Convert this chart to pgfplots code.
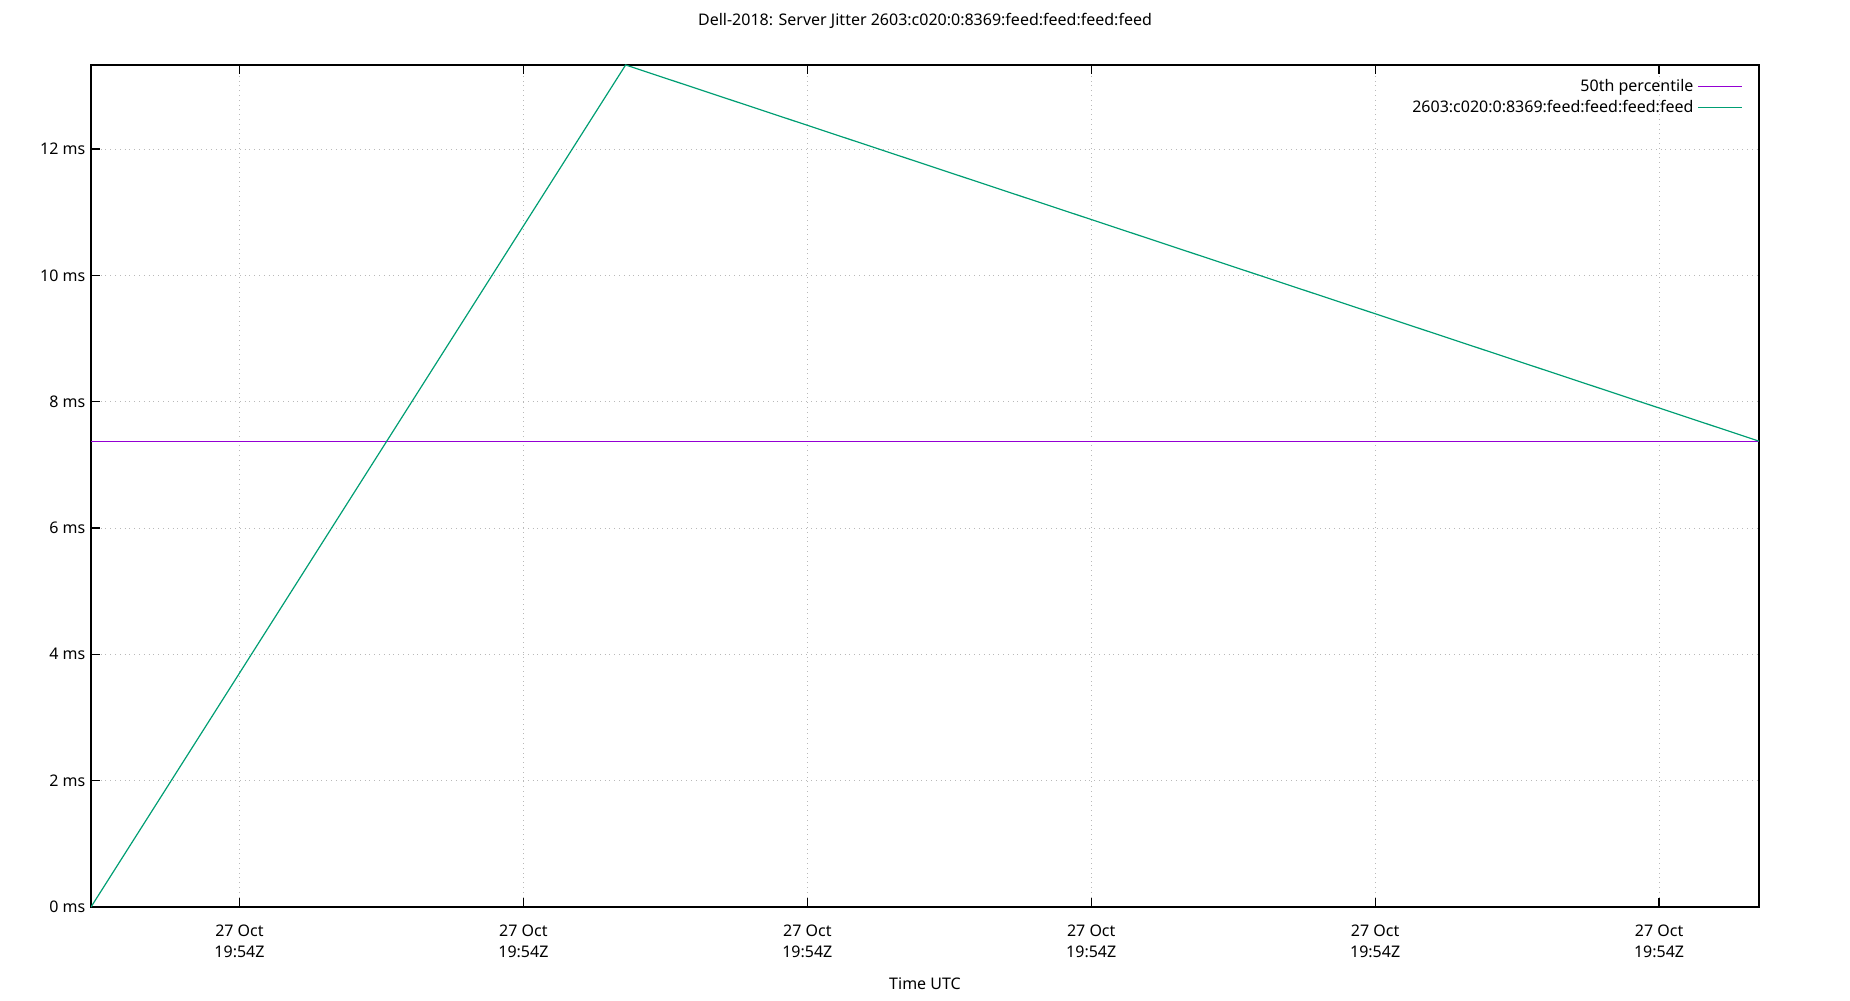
\documentclass[border=0pt]{standalone}
\usepackage{fontspec}
\setmainfont{Noto Sans}
\usepackage{pgfplots}
\pgfplotsset{compat=1.18}
\definecolor{gpurple}{HTML}{9400D3}
\definecolor{ggreen}{HTML}{009E73}
\begin{document}
\fontsize{8}{10.5}\selectfont
\begin{tikzpicture}
\path[use as bounding box] (-45.5pt,-46.5pt) rectangle (879.5pt,453.5pt);
\begin{axis}[
  at={(0,0)}, anchor=south west,
  scale only axis, width=834pt, height=421pt,
  xmin=0, xmax=5.875, ymin=0, ymax=13.33,
  axis line style={line width=0.6pt},
  every tick/.style={black, line width=0.6pt},
  tick align=inside, major tick length=4.3pt,
  xtick pos=both, ytick pos=left,
  xtick={0.523,1.523,2.523,3.523,4.523,5.523},
  xticklabels={27 Oct\\19:54Z,27 Oct\\19:54Z,27 Oct\\19:54Z,27 Oct\\19:54Z,27 Oct\\19:54Z,27 Oct\\19:54Z},
  xticklabel style={align=center, font=\fontsize{8}{10.8}\selectfont, yshift=-6pt},
  ytick={0,2,4,6,8,10,12},
  yticklabels={0 ms,2 ms,4 ms,6 ms,8 ms,10 ms,12 ms},
  yticklabel style={font=\fontsize{8}{10.5}\selectfont},
  grid=major, grid style={dotted, gray!55, line width=0.5pt},
  xlabel={Time UTC},
  xlabel style={font=\fontsize{8}{10.5}\selectfont, at={(0.5,0)}, anchor=center, yshift=-38.5pt},
  title={Dell-2018: Server Jitter 2603:c020:0:8369:feed:feed:feed:feed},
  title style={font=\fontsize{8}{10.5}\selectfont, at={(0.5,1)}, anchor=center, yshift=16pt},
  legend style={at={(1,1)}, anchor=north east, draw=none, fill=none,
    xshift=-5pt, yshift=-3pt, font=\fontsize{8}{10.5}\selectfont,
    row sep=-1pt},
  legend cell align=right, legend plot pos=right,
  legend image code/.code={\draw[#1] (0pt,0pt) -- (22pt,0pt);},
]
\addplot[gpurple, line width=0.6pt] coordinates {(0,7.37) (5.875,7.37)};
\addlegendentry{50th percentile}
\addplot[ggreen, line width=0.6pt] coordinates {(0,0) (1.883,13.33) (5.875,7.375)};
\addlegendentry{2603:c020:0:8369:feed:feed:feed:feed}
\end{axis}
\end{tikzpicture}
\end{document}
